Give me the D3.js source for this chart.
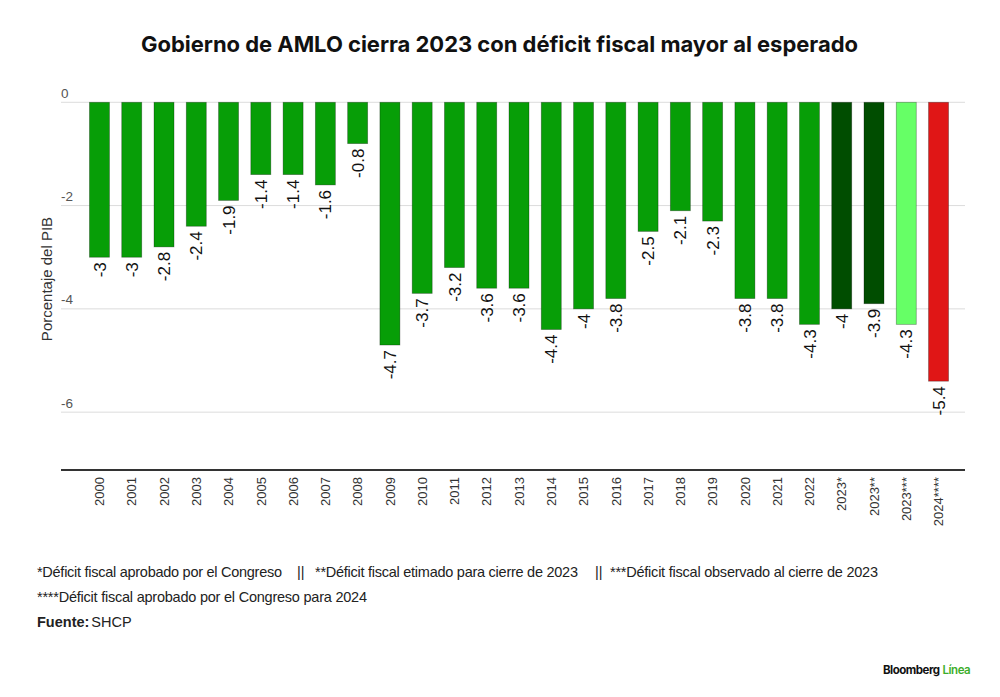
<!DOCTYPE html>
<html>
<head>
<meta charset="utf-8">
<script src="https://cdn.jsdelivr.net/npm/d3@7"></script>
<style>
  body { margin: 0; background: #fff; }
  svg { display: block; }
</style>
</head>
<body>
<svg id="chart" width="1000" height="697"></svg>
<script>
// Data
const years = ["2000", "2001", "2002", "2003", "2004", "2005", "2006", "2007", "2008", "2009",
  "2010", "2011", "2012", "2013", "2014", "2015", "2016", "2017", "2018", "2019",
  "2020", "2021", "2022", "2023*", "2023**", "2023***", "2024****"];
const deficit = [-3, -3, -2.8, -2.4, -1.9, -1.4, -1.4, -1.6, -0.8, -4.7,
  -3.7, -3.2, -3.6, -3.6, -4.4, -4, -3.8, -2.5, -2.1, -2.3,
  -3.8, -3.8, -4.3, -4, -3.9, -4.3, -5.4];
const barKind = ["hist", "hist", "hist", "hist", "hist", "hist", "hist", "hist", "hist", "hist",
  "hist", "hist", "hist", "hist", "hist", "hist", "hist", "hist", "hist", "hist",
  "hist", "hist", "hist", "est", "est", "obs", "plan"];
const yTicks = [0, -2, -4, -6];

const kindColor = { hist: "#079e07", est: "#004d00", obs: "#66ff66", plan: "#e01616" };

const svg = d3.select("#chart");

// scales
const x = d3.scaleBand()
  .domain(years)
  .range([73, 965])
  .paddingInner(0.38)
  .paddingOuter(0.51);

const y = d3.scaleLinear()
  .domain([0, -7.12])
  .range([102.3, 470]);

const gridLeft = 61, gridRight = 965;

// helper: squeeze/stretch letter spacing to hit a target width
function fitWidth(sel, target) {
  const node = sel.node();
  const n = sel.text().length;
  const w = node.getComputedTextLength();
  if (n > 1) sel.attr("letter-spacing", ((target - w) / (n - 1)).toFixed(3));
}

// title
const title = svg.append("text")
  .attr("x", 499.5)
  .attr("y", 52)
  .attr("text-anchor", "middle")
  .style("font-family", "Inter, 'Liberation Sans', sans-serif")
  .style("font-weight", 700)
  .style("font-size", "22px")
  .attr("fill", "#111")
  .text("Gobierno de AMLO cierra 2023 con déficit fiscal mayor al esperado");
fitWidth(title, 717);

// gridlines + y tick labels
const grid = svg.append("g");
grid.selectAll("line")
  .data(yTicks)
  .join("line")
  .attr("x1", gridLeft)
  .attr("x2", gridRight)
  .attr("y1", d => y(d))
  .attr("y2", d => y(d))
  .attr("stroke", "#dcdcdc")
  .attr("stroke-width", 1);

grid.selectAll("text")
  .data(yTicks)
  .join("text")
  .attr("x", gridLeft)
  .attr("y", d => y(d) - 4.5)
  .style("font-family", "'Liberation Sans', Arial, sans-serif")
  .style("font-size", "13.5px")
  .attr("fill", "#555")
  .text(d => d);

// y axis title
svg.append("text")
  .attr("transform", "translate(52,279) rotate(-90)")
  .attr("text-anchor", "middle")
  .style("font-family", "'Liberation Sans', Arial, sans-serif")
  .style("font-size", "15px")
  .attr("fill", "#333")
  .text("Porcentaje del PIB");

// bars
const rows = years.map((yr, i) => ({ yr, v: deficit[i], kind: barKind[i] }));

svg.append("g")
  .selectAll("rect")
  .data(rows)
  .join("rect")
  .attr("x", d => x(d.yr))
  .attr("width", x.bandwidth())
  .attr("y", y(0))
  .attr("height", d => y(d.v) - y(0))
  .attr("fill", d => kindColor[d.kind])
  .attr("stroke", "rgba(0,0,0,0.35)")
  .attr("stroke-width", 0.8);

// value labels, rotated
svg.append("g")
  .selectAll("text")
  .data(rows)
  .join("text")
  .attr("transform", d => `translate(${x(d.yr) + x.bandwidth() / 2},${y(d.v) + 5}) rotate(-90)`)
  .attr("text-anchor", "end")
  .attr("dy", "0.36em")
  .style("font-family", "'Liberation Sans', Arial, sans-serif")
  .style("font-size", "17px")
  .attr("fill", "#111")
  .text(d => d.v);

// x axis line + labels
svg.append("line")
  .attr("x1", gridLeft)
  .attr("x2", gridRight)
  .attr("y1", 470)
  .attr("y2", 470)
  .attr("stroke", "#333")
  .attr("stroke-width", 2);

svg.append("g")
  .selectAll("text")
  .data(years)
  .join("text")
  .attr("transform", d => `translate(${x(d) + x.bandwidth() / 2},477) rotate(-90)`)
  .attr("text-anchor", "end")
  .attr("dy", "0.36em")
  .style("font-family", "'Liberation Sans', Arial, sans-serif")
  .style("font-size", "13px")
  .attr("fill", "#333")
  .text(d => d);

// footnotes
const noteFont = "'Liberation Sans', Arial, sans-serif";
const notes = [
  { x: 37, y: 577, t: "*Déficit fiscal aprobado por el Congreso", w: 245 },
  { x: 297, y: 577, t: "||", w: 0 },
  { x: 315, y: 577, t: "**Déficit fiscal etimado para cierre de 2023", w: 263 },
  { x: 595, y: 577, t: "||", w: 0 },
  { x: 610, y: 577, t: "***Déficit fiscal observado al cierre de 2023", w: 268 },
  { x: 37, y: 602, t: "****Déficit fiscal aprobado por el Congreso para 2024", w: 330 }
];
notes.forEach(n => {
  const t = svg.append("text")
    .attr("x", n.x)
    .attr("y", n.y)
    .style("font-family", noteFont)
    .style("font-size", "14.5px")
    .attr("fill", "#222")
    .text(n.t);
  if (n.w) fitWidth(t, n.w);
});

const src = svg.append("text")
  .attr("x", 37)
  .attr("y", 627)
  .style("font-family", noteFont)
  .style("font-size", "14.5px")
  .attr("fill", "#222");
src.append("tspan").style("font-weight", 700).text("Fuente:");
src.append("tspan").attr("dx", 2).text("SHCP");

// logo
const logo = svg.append("text")
  .attr("x", 883)
  .attr("y", 674)
  .style("font-family", "Inter, 'Liberation Sans', sans-serif")
  .style("font-size", "11.5px")
  .style("font-weight", 700)
  .attr("letter-spacing", -0.5);
logo.append("tspan").attr("fill", "#111").text("Bloomberg");
logo.append("tspan").attr("dx", 3).attr("fill", "#3dae2b").style("font-weight", 600).text("Línea");
</script>
</body>
</html>
